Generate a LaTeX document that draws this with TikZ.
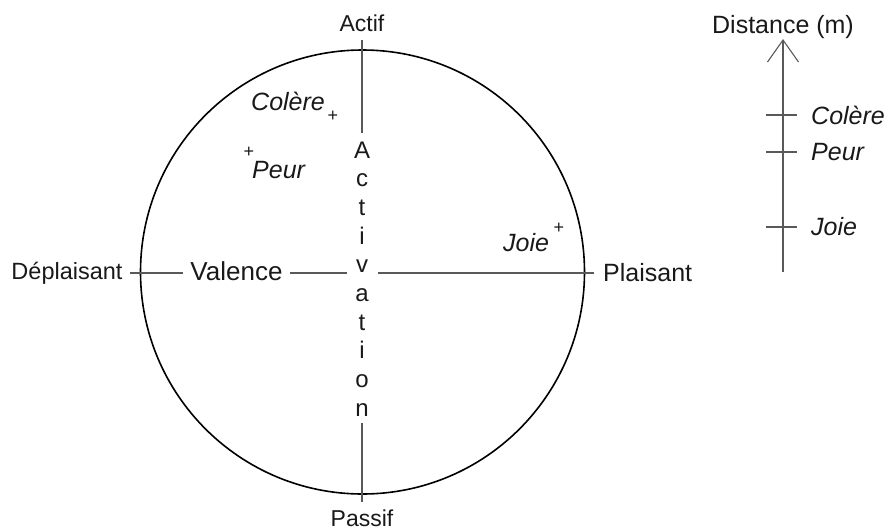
\documentclass[tikz,border=0pt]{standalone}
\usepackage{fontspec}
\setmainfont{Liberation Sans}
\begin{document}
\begin{tikzpicture}[x=1pt,y=-1pt,
  lbl/.style={inner sep=0pt,font=\fontsize{23}{27}\selectfont,text=black!90},
  big/.style={inner sep=0pt,font=\fontsize{25}{29}\selectfont,text=black!90},
  emo/.style={inner sep=0pt,font=\fontsize{25}{29}\selectfont\itshape,text=black!90},
  plus/.style={inner sep=0pt,font=\fontsize{18}{20}\selectfont,text=black!90},
  axis/.style={draw=black!65,line width=1.1pt},
  circ/.style={draw=black,line width=1.6pt}]
\useasboundingbox (0,0) rectangle (889,531);
% circle
\draw[circ] (362.5,272) circle (222);
% axis labels
\node[lbl,anchor=base] (actif) at (362,31) {Actif};
\node[lbl,anchor=base] (passif) at (362,526) {Passif};
\node[lbl,anchor=base,font=\fontsize{23.5}{28}\selectfont] (deplaisant) at (67,279) {Déplaisant};
\node[big,anchor=base,font=\fontsize{26}{30}\selectfont] (valence) at (236.5,280) {Valence};
\node[big,anchor=base west] (plaisant) at (603,281) {Plaisant};
% Activation letters
\foreach \c [count=\i from 0] in {A,c,t,i,v,a,t,i,o,n}{
  \node[inner sep=0pt,font=\fontsize{24}{28}\selectfont,text=black!90,anchor=base] (l\i) at (362,158+28.7*\i) {\c};
}
% vertical axis
\coordinate (vtop) at (362,40);
\coordinate (vtopend) at (362,133);
\coordinate (vbotstart) at (362,423);
\coordinate (vbot) at (362,502);
\draw[axis] (vtop) -- (vtopend);
\draw[axis] (vbotstart) -- (vbot);
% horizontal axis
\coordinate (h1) at (130,273);
\coordinate (h2) at (183,273);
\coordinate (h3) at (290,273);
\coordinate (h4) at (347,273);
\coordinate (h5) at (378,273);
\coordinate (h6) at (594,273);
\draw[axis] (h1) -- (h2);
\draw[axis] (h3) -- (h4);
\draw[axis] (h5) -- (h6);
% emotions
\node[emo,anchor=base west] (colere) at (251,110) {Colère};
\node[plus] (pc) at (333,116) {+};
\node[emo,anchor=base west] (peur) at (252,178) {Peur};
\node[plus] (pp) at (249,152) {+};
\node[emo,anchor=base west] (joie) at (503,251) {Joie};
\node[plus] (pj) at (559,228) {+};
% distance scale
\node[big,anchor=base] (dist) at (783,33) {Distance (m)};
\coordinate (sbot) at (783,272);
\coordinate (stip) at (783,40);
\coordinate (sa1) at (767.5,62);
\coordinate (sa2) at (798.5,62);
\draw[axis] (sbot) -- (stip);
\draw[axis,line join=miter] (sa1) -- (stip) -- (sa2);
\foreach \y/\n/\t in {115/c/Colère,152/p/Peur,227/j/Joie}{
  \coordinate (t\n1) at (766,\y);
  \coordinate (t\n2) at (797,\y);
  \draw[axis] (t\n1) -- (t\n2);
  \node[emo,anchor=west] (s\n) at (811,\y) {\t};
}
\end{tikzpicture}
\end{document}
